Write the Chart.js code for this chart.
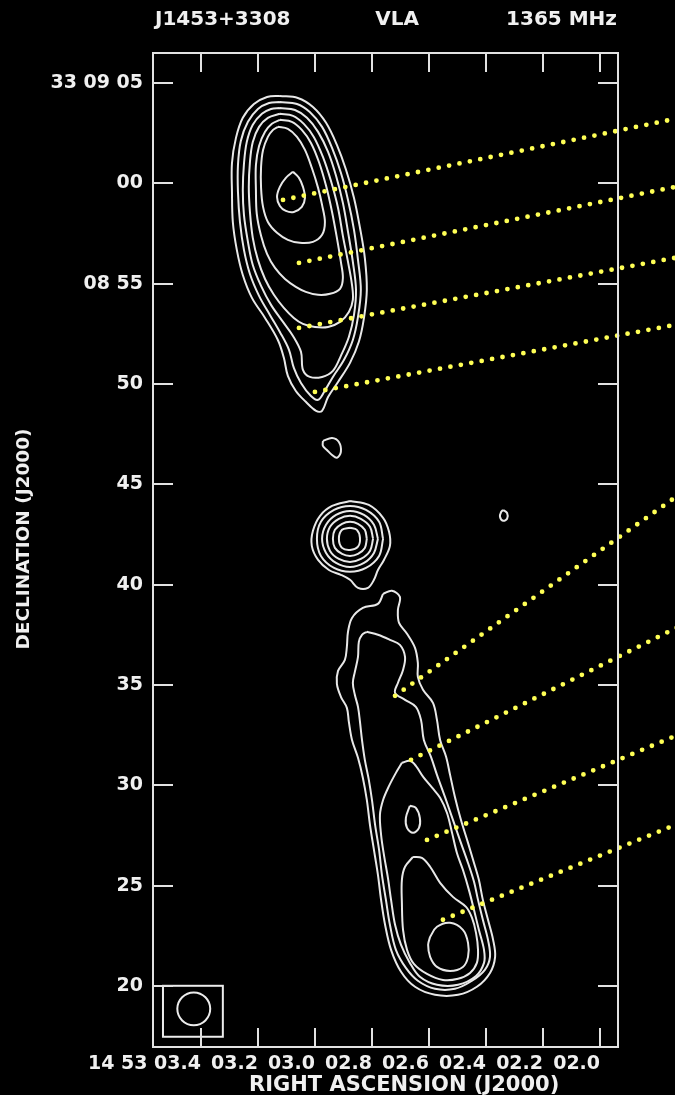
<!DOCTYPE html>
<html>
<head>
<meta charset="utf-8">
<title>J1453+3308 VLA 1365 MHz</title>
<script src="https://cdn.jsdelivr.net/npm/chart.js@4.4.1/dist/chart.umd.min.js"></script>
<style>
  html, body { margin: 0; padding: 0; background: #000; }
  #wrap { width: 675px; height: 1095px; }
</style>
</head>
<body>
<div id="wrap"><canvas id="map" width="675" height="1095"></canvas></div>
<script>
// Axis ticks: RA in seconds past 14h53m, Dec in arcsec past +33d08m
const raTicks = [3.4, 3.2, 3.0, 2.8, 2.6, 2.4, 2.2, 2.0];
const raLabels = ['14 53 03.4', '03.2', '03.0', '02.8', '02.6', '02.4', '02.2', '02.0'];
const decTicks = [65, 60, 55, 50, 45, 40, 35, 30, 25, 20];
const decLabels = ['33 09 05', '00', '08 55', '50', '45', '40', '35', '30', '25', '20'];
const raRange = [1.937, 3.568];
const decRange = [16.96, 66.49];

// Contours, [RA s, Dec arcsec]; northern lobe from the outer level inwards
const northLobe1 = [[3.123,64.35],[3.060,64.25],[3.007,63.80],[2.961,63.01],[2.923,61.91],[2.891,60.67],[2.863,59.27],[2.842,57.78],[2.825,56.28],[2.818,54.69],[2.828,53.29],[2.846,52.10],[2.877,51.05],[2.919,50.10],[2.954,49.35],[2.975,48.66],[2.996,48.66],[3.032,49.11],[3.067,49.65],[3.095,50.40],[3.109,51.30],[3.130,52.19],[3.175,53.29],[3.221,54.29],[3.253,55.43],[3.274,56.68],[3.288,58.07],[3.291,59.57],[3.291,61.01],[3.277,62.26],[3.253,63.26],[3.214,63.95],[3.168,64.30],[3.123,64.35]];
const northLobe2 = [[3.123,64.05],[3.063,63.95],[3.018,63.55],[2.975,62.81],[2.940,61.76],[2.909,60.52],[2.884,59.17],[2.863,57.68],[2.849,56.18],[2.839,54.69],[2.849,53.34],[2.867,52.19],[2.898,51.20],[2.937,50.35],[2.968,49.60],[2.989,49.21],[3.014,49.40],[3.049,50.05],[3.074,50.80],[3.091,51.70],[3.123,52.59],[3.158,53.44],[3.196,54.39],[3.228,55.48],[3.249,56.68],[3.263,58.07],[3.270,59.57],[3.270,60.91],[3.260,62.11],[3.235,63.06],[3.200,63.70],[3.161,64.00],[3.123,64.05]];
const northLobe3 = [[3.123,63.75],[3.070,63.65],[3.028,63.26],[2.989,62.56],[2.954,61.56],[2.926,60.37],[2.902,59.02],[2.884,57.58],[2.867,56.08],[2.856,54.69],[2.863,53.44],[2.881,52.34],[2.909,51.40],[2.937,50.65],[2.975,50.35],[3.018,50.35],[3.042,50.70],[3.049,51.60],[3.077,52.39],[3.112,53.09],[3.154,53.94],[3.189,54.89],[3.218,55.93],[3.235,57.08],[3.249,58.42],[3.253,59.67],[3.249,60.96],[3.239,62.06],[3.218,62.91],[3.186,63.46],[3.154,63.70],[3.123,63.75]];
const northLobe4 = [[3.123,63.46],[3.077,63.36],[3.039,62.96],[3.004,62.31],[2.972,61.31],[2.944,60.12],[2.919,58.77],[2.902,57.38],[2.884,56.08],[2.870,54.94],[2.867,54.19],[2.881,53.59],[2.912,53.09],[2.954,52.84],[3.000,52.84],[3.042,52.99],[3.074,53.29],[3.109,53.79],[3.144,54.44],[3.175,55.23],[3.200,56.18],[3.218,57.28],[3.228,58.57],[3.232,59.82],[3.228,61.06],[3.218,62.06],[3.196,62.81],[3.165,63.26],[3.123,63.46]];
const northLobe5 = [[3.123,63.16],[3.081,63.06],[3.046,62.66],[3.014,62.01],[2.986,61.06],[2.961,59.87],[2.940,58.57],[2.923,57.28],[2.909,56.08],[2.902,55.28],[2.912,54.74],[2.947,54.49],[2.989,54.44],[3.032,54.59],[3.067,54.84],[3.105,55.23],[3.140,55.78],[3.168,56.48],[3.189,57.38],[3.204,58.47],[3.207,59.67],[3.207,60.91],[3.196,61.86],[3.175,62.56],[3.151,62.96],[3.123,63.16]];
const northLobe6 = [[3.130,62.81],[3.095,62.71],[3.063,62.31],[3.035,61.66],[3.011,60.77],[2.989,59.77],[2.975,58.92],[2.965,58.07],[2.975,57.43],[3.007,57.08],[3.053,57.03],[3.095,57.18],[3.133,57.53],[3.165,58.07],[3.182,58.82],[3.189,59.77],[3.189,60.81],[3.182,61.66],[3.165,62.31],[3.147,62.66],[3.130,62.81]];
const northPeak = [[3.077,60.57],[3.056,60.27],[3.042,59.82],[3.035,59.27],[3.046,58.82],[3.074,58.57],[3.102,58.62],[3.123,58.87],[3.133,59.32],[3.123,59.82],[3.102,60.27],[3.077,60.57]];

// Compact knots between the lobes
const knotNorth = [[2.972,47.16],[2.940,47.31],[2.916,47.11],[2.909,46.61],[2.923,46.32],[2.940,46.46],[2.958,46.71],[2.972,46.91],[2.972,47.16]];
const knotEast = [[2.340,43.72],[2.326,43.57],[2.326,43.28],[2.340,43.18],[2.351,43.38],[2.347,43.62],[2.340,43.72]];

// Core
const core1 = [[2.877,44.17],[2.811,43.97],[2.761,43.33],[2.740,42.63],[2.737,41.93],[2.758,41.23],[2.779,40.73],[2.793,40.24],[2.814,39.84],[2.849,39.84],[2.877,40.24],[2.909,40.49],[2.951,40.73],[2.989,41.23],[3.011,41.93],[3.007,42.68],[2.982,43.43],[2.940,43.92],[2.877,44.17]];
const core2 = [[2.761,42.28],[2.775,43.13],[2.821,43.72],[2.877,43.92],[2.933,43.72],[2.979,43.13],[2.993,42.28],[2.979,41.43],[2.933,40.83],[2.877,40.64],[2.821,40.83],[2.775,41.43],[2.761,42.28]];
const core3 = [[2.779,42.28],[2.793,42.98],[2.828,43.47],[2.877,43.67],[2.926,43.47],[2.961,42.98],[2.975,42.28],[2.961,41.58],[2.926,41.08],[2.877,40.88],[2.828,41.08],[2.793,41.58],[2.779,42.28]];
const core4 = [[2.796,42.28],[2.807,42.88],[2.839,43.28],[2.877,43.43],[2.916,43.28],[2.947,42.88],[2.958,42.28],[2.947,41.68],[2.916,41.28],[2.877,41.13],[2.839,41.28],[2.807,41.68],[2.796,42.28]];
const core5 = [[2.818,42.28],[2.825,42.73],[2.849,43.03],[2.877,43.13],[2.905,43.03],[2.930,42.73],[2.937,42.28],[2.930,41.83],[2.905,41.53],[2.877,41.43],[2.849,41.53],[2.825,41.83],[2.818,42.28]];
const core6 = [[2.877,42.83],[2.853,42.73],[2.842,42.33],[2.849,41.89],[2.877,41.73],[2.905,41.83],[2.916,42.28],[2.905,42.73],[2.877,42.83]];

// Southern lobe
const southLobe1 = [[2.761,39.54],[2.730,39.69],[2.702,39.39],[2.709,38.74],[2.705,38.09],[2.677,37.55],[2.649,36.85],[2.639,36.10],[2.639,35.40],[2.621,34.76],[2.586,34.11],[2.572,33.26],[2.561,32.26],[2.540,31.42],[2.526,30.52],[2.509,29.42],[2.488,28.28],[2.463,27.13],[2.442,26.13],[2.425,25.29],[2.411,24.29],[2.393,23.30],[2.375,22.30],[2.368,21.45],[2.386,20.65],[2.432,19.96],[2.498,19.56],[2.579,19.56],[2.649,19.96],[2.698,20.71],[2.733,21.80],[2.754,23.05],[2.768,24.29],[2.779,25.54],[2.793,26.78],[2.807,28.03],[2.818,29.27],[2.832,30.38],[2.849,31.37],[2.870,32.26],[2.881,33.16],[2.888,33.86],[2.909,34.41],[2.923,35.05],[2.919,35.70],[2.895,36.25],[2.888,36.90],[2.884,37.65],[2.870,38.34],[2.832,38.84],[2.779,39.04],[2.761,39.54]];
const southLobe2 = [[2.818,37.65],[2.779,37.50],[2.737,37.25],[2.702,37.00],[2.684,36.40],[2.691,35.75],[2.709,35.10],[2.719,34.61],[2.684,34.26],[2.646,33.91],[2.628,33.26],[2.618,32.26],[2.593,31.42],[2.572,30.52],[2.544,29.42],[2.516,28.28],[2.488,27.13],[2.463,26.13],[2.442,25.19],[2.428,24.29],[2.411,23.30],[2.393,22.30],[2.386,21.45],[2.404,20.80],[2.449,20.26],[2.509,19.86],[2.579,19.86],[2.639,20.26],[2.681,20.90],[2.716,21.80],[2.737,23.05],[2.751,24.29],[2.765,25.54],[2.775,26.78],[2.789,28.03],[2.800,29.27],[2.811,30.27],[2.825,31.27],[2.835,32.26],[2.842,33.16],[2.849,33.91],[2.860,34.51],[2.867,35.10],[2.860,35.65],[2.849,36.40],[2.846,37.15],[2.835,37.50],[2.818,37.65]];
const southLobe3 = [[2.695,31.12],[2.667,31.22],[2.646,30.97],[2.621,30.43],[2.589,29.88],[2.561,29.38],[2.537,28.63],[2.519,27.63],[2.502,26.63],[2.481,25.79],[2.460,24.79],[2.442,23.79],[2.425,22.80],[2.407,21.80],[2.407,21.15],[2.435,20.50],[2.498,20.06],[2.572,20.06],[2.632,20.46],[2.667,21.15],[2.698,22.05],[2.719,23.05],[2.733,24.29],[2.744,25.39],[2.758,26.53],[2.768,27.53],[2.772,28.53],[2.761,29.27],[2.740,29.97],[2.716,30.62],[2.695,31.12]];
const southLobe4 = [[2.656,26.43],[2.625,26.38],[2.596,25.94],[2.561,25.14],[2.516,24.44],[2.470,23.94],[2.449,23.39],[2.435,22.65],[2.428,21.80],[2.432,21.15],[2.456,20.65],[2.498,20.36],[2.551,20.30],[2.607,20.60],[2.653,21.10],[2.677,21.80],[2.691,22.80],[2.695,24.14],[2.695,25.29],[2.684,25.94],[2.656,26.43]];
const southPeak = [[2.596,22.45],[2.572,22.95],[2.526,23.15],[2.481,22.80],[2.463,22.15],[2.463,21.45],[2.481,20.95],[2.526,20.75],[2.572,20.95],[2.596,21.45],[2.603,22.05],[2.596,22.45]];
const southKnot = [[2.667,28.98],[2.646,28.88],[2.632,28.38],[2.635,27.88],[2.656,27.63],[2.677,27.88],[2.681,28.38],[2.667,28.98]];

// Dotted pointer lines: start on a contour, run out past the right edge
const pointerFrom = [[3.112,59.17],[3.056,56.03],[3.056,52.79],[3.000,49.60],[2.719,34.46],[2.663,31.27],[2.607,27.28],[2.551,23.30]];
const pointerTo = [[1.719,63.26],[1.719,59.87],[1.719,56.33],[1.719,52.99],[1.719,44.52],[1.719,37.94],[1.719,32.56],[1.719,28.13]];

// Restoring beam (circular) and its box
const beamCentre = [3.425, 18.86];
const beamRadius = 0.82;
const beamBoxRA = [3.533, 3.323];
const beamBoxDec = [20.01, 17.47];

const contours = [northLobe1, northLobe2, northLobe3, northLobe4, northLobe5, northLobe6, northPeak,
  knotNorth, knotEast, core1, core2, core3, core4, core5, core6,
  southLobe1, southLobe2, southLobe3, southLobe4, southPeak, southKnot];

const toXY = pts => pts.map(([x, y]) => ({ x, y }));
const labelFor = (ticks, labels, v) => {
  const i = ticks.findIndex(t => Math.abs(t - v) < 1e-6);
  return i >= 0 ? labels[i] : '';
};

const datasets = [];
pointerFrom.forEach((p, i) => datasets.push({
  data: toXY([p, pointerTo[i]]),
  showLine: true,
  borderColor: '#ffff55',
  borderWidth: 4.8,
  borderDash: [0, 10.6],
  borderCapStyle: 'round',
  pointRadius: 0,
  tension: 0,
  clip: false,
  order: 0
}));
contours.forEach(c => datasets.push({
  data: toXY(c),
  showLine: true,
  borderColor: '#e8e8e8',
  borderWidth: 2,
  borderJoinStyle: 'round',
  pointRadius: 0,
  tension: 0.35,
  order: 1
}));

const TICK_FONT = { family: '"DejaVu Sans", sans-serif', weight: 'bold', size: 19 };
const INK = '#f0f0f0';

const mapFrame = {
  id: 'mapFrame',
  beforeDraw(chart) {
    const { ctx, width, height } = chart;
    ctx.save();
    ctx.fillStyle = '#000';
    ctx.fillRect(0, 0, width, height);
    ctx.restore();
  },
  afterDatasetsDraw(chart) {
    const { ctx, scales: { x, y } } = chart;
    ctx.save();
    ctx.strokeStyle = '#ececec';
    ctx.lineWidth = 2;
    // beam box
    const bx0 = x.getPixelForValue(beamBoxRA[0]), bx1 = x.getPixelForValue(beamBoxRA[1]);
    const by0 = y.getPixelForValue(beamBoxDec[0]), by1 = y.getPixelForValue(beamBoxDec[1]);
    ctx.strokeRect(bx0, by0, bx1 - bx0, by1 - by0);
    // beam circle
    const cx = x.getPixelForValue(beamCentre[0]);
    const cy = y.getPixelForValue(beamCentre[1]);
    const r = Math.abs(y.getPixelForValue(beamCentre[1] + beamRadius) - cy);
    ctx.beginPath();
    ctx.arc(cx, cy, r, 0, Math.PI * 2);
    ctx.stroke();
    ctx.restore();
  },
  afterDraw(chart) {
    const { ctx, chartArea: a, scales: { x, y } } = chart;
    ctx.save();
    ctx.strokeStyle = '#e2e2e2';
    ctx.lineWidth = 2;
    ctx.strokeRect(a.left, a.top, a.right - a.left, a.bottom - a.top);
    ctx.beginPath();
    raTicks.forEach(v => {
      const px = Math.round(x.getPixelForValue(v));
      ctx.moveTo(px, a.top); ctx.lineTo(px, a.top + 19);
      ctx.moveTo(px, a.bottom); ctx.lineTo(px, a.bottom - 19);
    });
    decTicks.forEach(v => {
      const py = Math.round(y.getPixelForValue(v));
      ctx.moveTo(a.left, py); ctx.lineTo(a.left + 20, py);
      ctx.moveTo(a.right, py); ctx.lineTo(a.right - 20, py);
    });
    ctx.stroke();

    ctx.fillStyle = INK;
    ctx.font = 'bold 20px "DejaVu Sans", sans-serif';
    ctx.textBaseline = 'alphabetic';
    ctx.textAlign = 'left';
    ctx.fillText('J1453+3308', a.left + 2, 25);
    ctx.textAlign = 'center';
    ctx.fillText('VLA', a.left + 0.525 * (a.right - a.left), 25);
    ctx.textAlign = 'right';
    ctx.fillText('1365 MHz', a.right - 1, 25);

    ctx.font = 'bold 21px "DejaVu Sans", sans-serif';
    ctx.textAlign = 'center';
    ctx.fillText('RIGHT ASCENSION (J2000)', a.left + 0.54 * (a.right - a.left), a.bottom + 44);

    ctx.font = 'bold 18.5px "DejaVu Sans", sans-serif';
    ctx.translate(24, a.top + 486);
    ctx.rotate(-Math.PI / 2);
    ctx.textBaseline = 'middle';
    ctx.fillText('DECLINATION (J2000)', 0, 0);
    ctx.restore();
  }
};

new Chart(document.getElementById('map'), {
  type: 'scatter',
  data: { datasets },
  plugins: [mapFrame],
  options: {
    responsive: false,
    devicePixelRatio: 1,
    animation: false,
    layout: { padding: { left: 0, top: 53, right: 57, bottom: 0 } },
    plugins: { legend: { display: false }, tooltip: { enabled: false } },
    scales: {
      x: {
        type: 'linear',
        reverse: true,
        min: raRange[0],
        max: raRange[1],
        grid: { display: false, drawTicks: false },
        border: { display: false },
        afterBuildTicks: s => { s.ticks = raTicks.map(v => ({ value: v })); },
        afterFit: s => { s.height = 48; },
        ticks: {
          autoSkip: false, maxRotation: 0, minRotation: 0, align: 'end', padding: 6,
          color: INK, font: TICK_FONT,
          callback: v => labelFor(raTicks, raLabels, v)
        }
      },
      y: {
        type: 'linear',
        min: decRange[0],
        max: decRange[1],
        grid: { display: false, drawTicks: false },
        border: { display: false },
        afterBuildTicks: s => { s.ticks = decTicks.map(v => ({ value: v })); },
        afterFit: s => { s.width = 153; },
        ticks: {
          autoSkip: false, padding: 10,
          color: INK, font: TICK_FONT,
          callback: v => labelFor(decTicks, decLabels, v)
        }
      }
    }
  }
});
</script>
</body>
</html>
